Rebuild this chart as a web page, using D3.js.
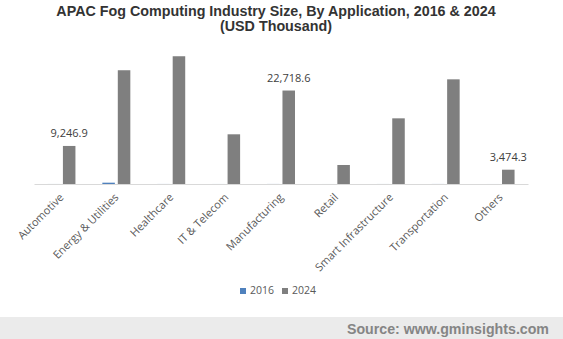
<!DOCTYPE html>
<html>
<head>
<meta charset="utf-8">
<script src="https://cdnjs.cloudflare.com/ajax/libs/d3/7.8.5/d3.min.js"></script>
<style>
  body { margin: 0; background: #fff; }
  svg { display: block; }
</style>
</head>
<body>
<svg id="chart" width="563" height="339"></svg>
<script>
const categories = ["Automotive", "Energy & Utilities", "Healthcare", "IT & Telecom", "Manufacturing",
                    "Retail", "Smart Infrastructure", "Transportation", "Others"];
const years = ["2016", "2024"];
const values2016 = [8, 320, 10, 6, 12, 4, 8, 10, 3];
const values2024 = [9246.9, 27650, 31050, 12080, 22718.6, 4620, 15960, 25440, 3474.3];
// labelled bars (2024 series only)
const labelled = ["Automotive", "Manufacturing", "Others"];
const colors = { "2016": "#4f81bd", "2024": "#7f7f7f" };

const width = 563, height = 339;
const left = 34, right = 528, baseY = 184, topY = 40;

const svg = d3.select("#chart");

const data = categories.map((c, i) => ({ cat: c, "2016": values2016[i], "2024": values2024[i] }));

const x = d3.scaleBand().domain(categories).range([left, right]).padding(0);
const x1 = d3.scaleBand().domain(years).range([0, x.bandwidth()])
            .paddingInner(0.19).paddingOuter(0.87);
const y = d3.scaleLinear().domain([0, 35000]).range([baseY, topY]);

// title
const title = svg.append("g")
    .attr("font-family", "Liberation Sans, Arial, sans-serif")
    .attr("font-weight", "bold")
    .attr("font-size", 14.3)
    .attr("fill", "#333")
    .attr("text-anchor", "middle");
title.append("text").attr("x", 276).attr("y", 16)
    .text("APAC Fog Computing Industry Size, By Application, 2016 & 2024");
title.append("text").attr("x", 276).attr("y", 31).text("(USD Thousand)");

// bars
const groups = svg.append("g")
    .selectAll("g")
    .data(data)
    .join("g")
    .attr("transform", d => `translate(${x(d.cat)},0)`);

groups.selectAll("rect")
    .data(d => years.map(k => ({ key: k, value: d[k] })))
    .join("rect")
    .attr("x", d => x1(d.key))
    .attr("y", d => y(d.value))
    .attr("width", x1.bandwidth())
    .attr("height", d => baseY - y(d.value))
    .attr("fill", d => colors[d.key]);

// axis line
const xAxis = d3.axisBottom(x).tickSize(0).tickPadding(0);
svg.append("g")
    .attr("transform", `translate(0,${baseY})`)
    .call(xAxis)
    .call(g => g.select(".domain").attr("stroke", "#d9d9d9").attr("stroke-width", 1))
    .call(g => g.selectAll(".tick text")
        .attr("font-family", "Open Sans, sans-serif")
        .attr("font-size", 11)
        .attr("fill", "#595959")
        .attr("text-anchor", "end")
        .attr("dy", 0)
        .attr("transform", "translate(3,14) rotate(-45)"));

// data labels
svg.append("g")
    .selectAll("text")
    .data(data.filter(d => labelled.includes(d.cat)))
    .join("text")
    .attr("x", d => x(d.cat) + x1("2024") + x1.bandwidth() / 2)
    .attr("y", d => y(d["2024"]) - 9)
    .attr("text-anchor", "middle")
    .attr("font-family", "Open Sans, sans-serif")
    .attr("font-size", 11)
    .attr("fill", "#404040")
    .text(d => d3.format(",.1f")(d["2024"]));

// legend
const legend = svg.append("g").attr("transform", "translate(240,294)");
const legendX = [0, 42];
years.forEach((k, i) => {
  legend.append("rect")
      .attr("x", legendX[i]).attr("y", -6)
      .attr("width", 6).attr("height", 6)
      .attr("fill", colors[k]);
  legend.append("text")
      .attr("x", legendX[i] + 10).attr("y", 0)
      .attr("font-family", "Open Sans, sans-serif")
      .attr("font-size", 10.5)
      .attr("fill", "#595959")
      .text(k);
});

// footer
svg.append("rect")
    .attr("x", 0).attr("y", 317)
    .attr("width", width).attr("height", height - 317)
    .attr("fill", "#ebebeb");
svg.append("text")
    .attr("x", 549).attr("y", 334)
    .attr("text-anchor", "end")
    .attr("font-family", "Liberation Sans, Arial, sans-serif")
    .attr("font-weight", "bold")
    .attr("font-size", 14.2)
    .attr("fill", "#858585")
    .text("Source: www.gminsights.com");
</script>
</body>
</html>
